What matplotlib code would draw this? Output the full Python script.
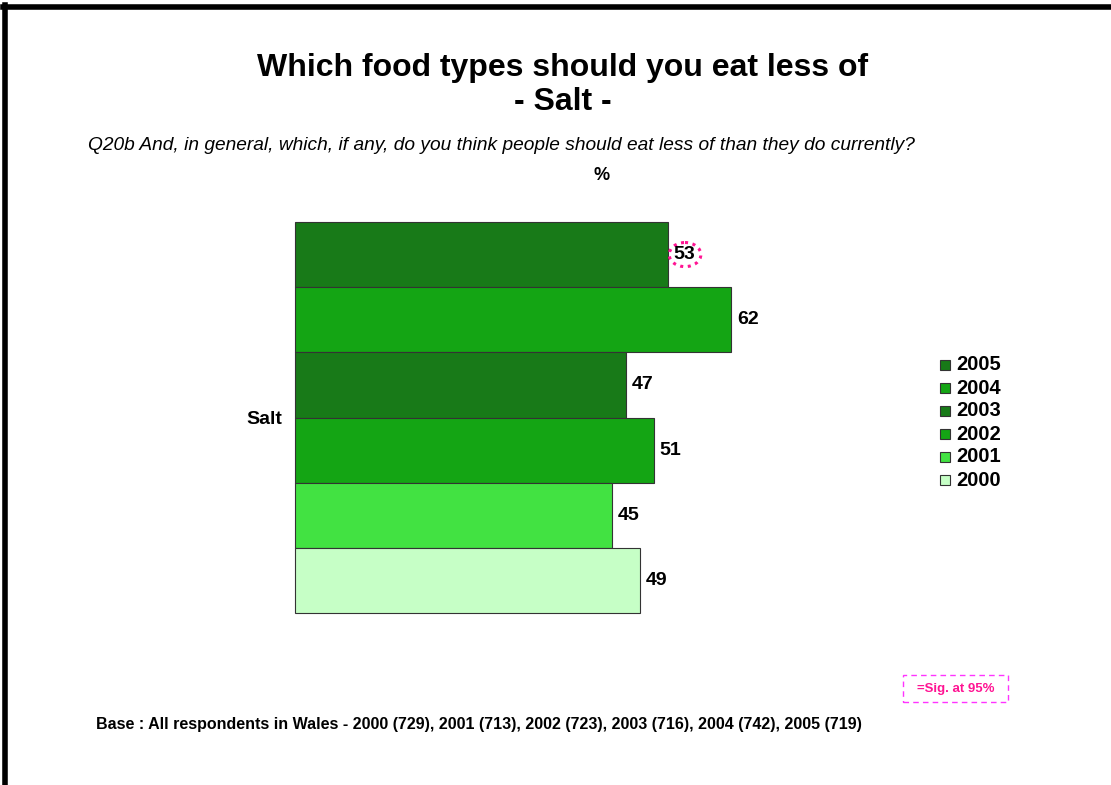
import matplotlib.pyplot as plt
from matplotlib.patches import Ellipse, Rectangle

plt.rcParams['font.family'] = ['Liberation Sans', 'DejaVu Sans']

years = ['2005', '2004', '2003', '2002', '2001', '2000']
values = [53, 62, 47, 51, 45, 49]
colors = ['#187a18', '#14a514', '#187a18', '#14a514', '#42e242', '#c6ffc6']
sig_years = ['2005']

fig = plt.figure(figsize=(11.11, 7.85), dpi=100)
W, H = 1111, 785

# frame lines (top and left)
fig.add_artist(plt.Line2D([3 / W, 1], [1 - 7 / H, 1 - 7 / H], color='black', lw=4))
fig.add_artist(plt.Line2D([5 / W, 5 / W], [0, 1 - 5 / H], color='black', lw=4))

ax = fig.add_axes([295 / W, 1 - 613 / H, 704 / W, 391 / H])
n = len(years)
ypos = list(range(n))
ax.barh(ypos, values, height=1.0, color=colors, edgecolor='#333333', linewidth=0.8,
        clip_on=False)
ax.set_ylim(n - 0.5, -0.5)
ax.set_xlim(0, 100)
ax.axis('off')

for y, v, yr in zip(ypos, values, years):
    ax.text(v + 0.8, y, str(v), va='center', ha='left', fontsize=14, fontweight='bold')
    if yr in sig_years:
        ax.add_patch(Ellipse((v + 2.4, y), 4.5, 0.37, fill=False, edgecolor='#ff1493',
                             linestyle=(0, (1, 1.5)), linewidth=2.2))

fig.text(264 / W, 1 - 419 / H, 'Salt', ha='center', va='center', fontsize=14, fontweight='bold')

fig.text(563 / W, 1 - 68 / H, 'Which food types should you eat less of', ha='center', va='center',
         fontsize=23, fontweight='bold')
fig.text(563 / W, 1 - 102 / H, '- Salt -', ha='center', va='center', fontsize=23, fontweight='bold')
fig.text(88 / W, 1 - 146 / H,
         'Q20b And, in general, which, if any, do you think people should eat less of than they do currently?',
         ha='left', va='center', fontsize=13.8, style='italic')
fig.text(602 / W, 1 - 176 / H, '%', ha='center', va='center', fontsize=13, fontweight='bold')

# legend
for i, (yr, c) in enumerate(zip(years, colors)):
    yy = 1 - (365 + i * 23) / H
    fig.add_artist(Rectangle((940 / W, yy - 5 / H), 10 / W, 10 / H, facecolor=c,
                             edgecolor='#333333', lw=0.8, transform=fig.transFigure))
    fig.text(956 / W, yy, yr, ha='left', va='center', fontsize=14.5, fontweight='bold')

# sig box
fig.add_artist(Rectangle((903 / W, 1 - 702 / H), 105 / W, 27 / H, fill=False,
                         edgecolor='#ff33ff', linestyle=(0, (4, 3)), lw=1,
                         transform=fig.transFigure))
fig.text(956 / W, 1 - 689 / H, '=Sig. at 95%', ha='center', va='center', fontsize=9.5,
         fontweight='bold', color='#ff1493')

fig.text(96 / W, 1 - 724 / H,
         'Base : All respondents in Wales - 2000 (729), 2001 (713), 2002 (723), 2003 (716), 2004 (742), 2005 (719)',
         ha='left', va='center', fontsize=11.5, fontweight='bold')

fig.savefig('out.png', dpi=100)
